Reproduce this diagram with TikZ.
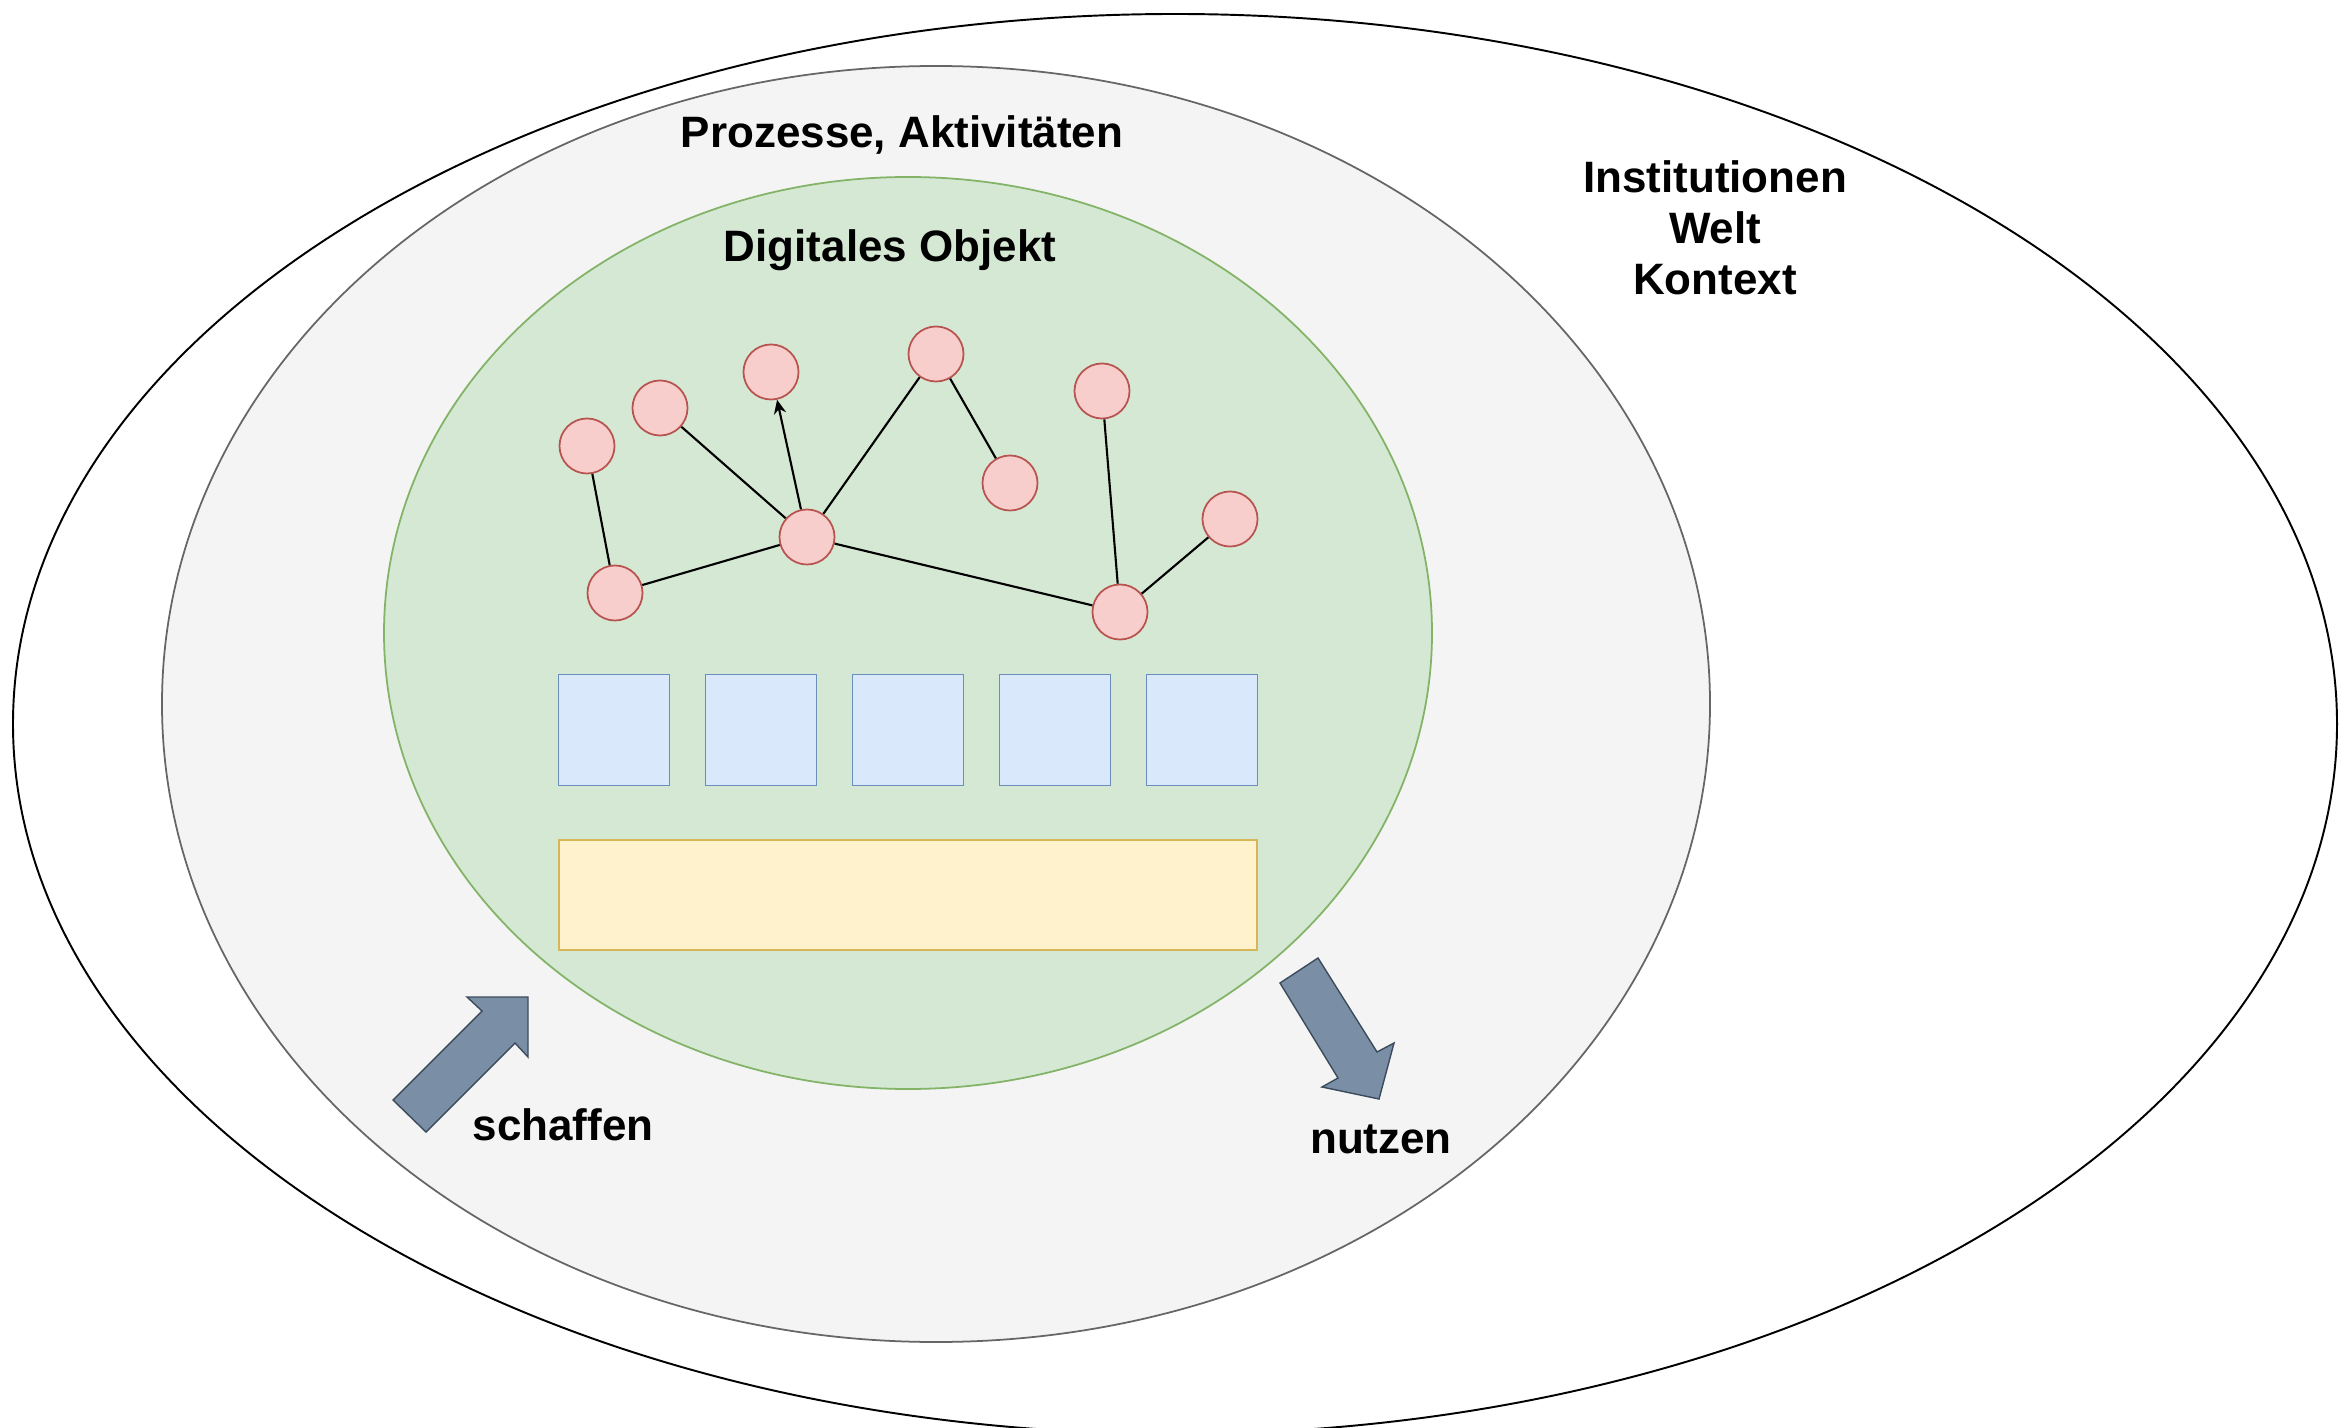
\documentclass[tikz,border=0pt]{standalone}
\usepackage{fontspec}
\setmainfont{Liberation Sans}
\usepackage{tikz}
\usetikzlibrary{positioning,arrows.meta}
\definecolor{myred}{RGB}{184,84,80}
\definecolor{myredfill}{RGB}{248,206,204}
\definecolor{mygreen}{RGB}{130,179,102}
\definecolor{mygreenfill}{RGB}{213,232,212}
\definecolor{myblue}{RGB}{108,142,191}
\definecolor{mybluefill}{RGB}{218,232,252}
\definecolor{myyellow}{RGB}{214,182,86}
\definecolor{myyellowfill}{RGB}{255,242,204}
\definecolor{mygray}{RGB}{102,102,102}
\definecolor{mygrayfill}{RGB}{244,244,244}
\definecolor{myslate}{RGB}{122,143,166}
\definecolor{myslatedark}{RGB}{60,75,92}
\tikzset{
		edgeStyle/.style = 	{line width = 0.6pt},
		item/.style = 		{circle, draw=myred, fill=myredfill, line width=0.5pt, minimum size=0.55cm, inner sep=0pt},
		block/.style = 		{draw=myblue, fill=mybluefill, line width=0.5pt, minimum size=1.11cm, inner sep=0pt},
		textStyle/.style = 	{font=\fontsize{12.5}{14.5}\selectfont\bfseries, align=center},
		bigArrow/.style = 	{fill=myslate, draw=myslatedark, line width=0.4pt, line join=miter}
}

\begin{document}
\begin{tikzpicture}[x=0.01cm, y=-0.01cm]
  \useasboundingbox (0,0) rectangle (2349,1428);

  % Kontext, Prozesse, Objekt
  \draw[line width=0.55pt, fill=white] (1175,724) ellipse [x radius=1162, y radius=710];
  \draw[line width=0.5pt, draw=mygray, fill=mygrayfill] (936,704) ellipse [x radius=774, y radius=638];
  \draw[line width=0.5pt, draw=mygreen, fill=mygreenfill] (908,633) ellipse [x radius=524, y radius=456];

  \node [textStyle] (context) at (1715,228) {Institutionen\\Welt\\Kontext};
  \node [textStyle] (process) at (902,135) {Prozesse, Aktivitäten};
  \node [textStyle] (object) at (890,250) {Digitales Objekt};

  % Graph
  \node [item] (a) at (587,446) {};
  \node [item] (b) at (660,408) {};
  \node [item] (c) at (771,372) {};
  \node [item] (d) at (936,354) {};
  \node [item] (e) at (1010,483) {};
  \node [item] (f) at (1102,391) {};
  \node [item] (g) at (1230,519) {};
  \node [item] (h) at (807,537) {};
  \node [item] (i) at (615,593) {};
  \node [item] (j) at (1120,612) {};

  \draw [edgeStyle] (a)--(i) (i)--(h) (b)--(h) (d)--(h) (d)--(e) (h)--(j) (f)--(j) (g)--(j);
  \draw [edgeStyle, -{Stealth[length=4pt, width=3.5pt]}] (h)--(c);

  % Bloecke
  \foreach \x [count=\xi] in {614,761,908,1055,1202}
    \node [block] (block\xi) at (\x,730) {};
  \node [draw=myyellow, fill=myyellowfill, line width=0.5pt, minimum width=6.98cm, minimum height=1.10cm, inner sep=0pt] (base) at (908,895) {};

  % Pfeile
  \draw [bigArrow] (393,1100) -- (482,1011) -- (467,997) -- (528,997) -- (528,1057) -- (515,1043) -- (426,1132) -- cycle;
  \draw [bigArrow] (1280,983) -- (1338,1078) -- (1322,1087) -- (1379,1099) -- (1394,1043) -- (1377,1052) -- (1318,958) -- cycle;
  \node [textStyle] (create) at (563,1125) {schaffen};
  \node [textStyle] (use) at (1381,1139) {nutzen};

\end{tikzpicture}
\end{document}
